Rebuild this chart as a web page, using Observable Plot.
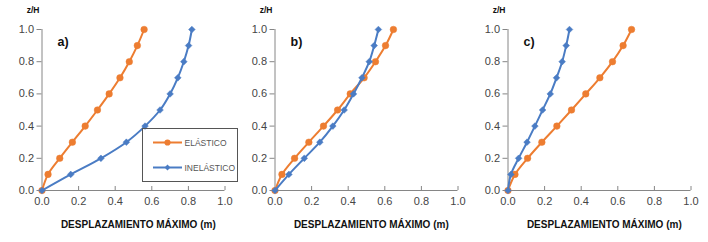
<!DOCTYPE html>
<html>
<head>
<meta charset="utf-8">
<script src="https://cdn.jsdelivr.net/npm/d3@7"></script>
<script src="https://cdn.jsdelivr.net/npm/@observablehq/plot@0.6"></script>
<style>
  html, body { margin: 0; padding: 0; background: #fff; }
  #wrap { position: relative; width: 708px; height: 242px; font-family: "Liberation Sans", Arial, sans-serif; }
  .panel { position: absolute; top: 0; }
  #legend { position: absolute; left: 142px; top: 128px; width: 94px; height: 52px; border: 1px solid #555; background: transparent; }
  #legend svg { position: absolute; left: 0; top: 0; }
</style>
</head>
<body>
<div id="wrap"></div>
<script>
// z/H levels
const zH = [0, 0.1, 0.2, 0.3, 0.4, 0.5, 0.6, 0.7, 0.8, 0.9, 1.0];
// Panel a)
const aElastico   = [0, 0.033, 0.097, 0.166, 0.236, 0.303, 0.367, 0.426, 0.477, 0.521, 0.558];
const aInelastico = [0, 0.157, 0.322, 0.461, 0.563, 0.645, 0.700, 0.742, 0.775, 0.801, 0.819];
// Panel b)
const bElastico   = [0, 0.038, 0.107, 0.185, 0.265, 0.342, 0.411, 0.487, 0.549, 0.604, 0.647];
const bInelastico = [0, 0.076, 0.160, 0.245, 0.316, 0.378, 0.429, 0.475, 0.515, 0.542, 0.565];
// Panel c)
const cElastico   = [0, 0.038, 0.107, 0.185, 0.267, 0.347, 0.425, 0.502, 0.571, 0.629, 0.675];
const cInelastico = [0, 0.016, 0.058, 0.104, 0.147, 0.189, 0.231, 0.265, 0.296, 0.318, 0.336];

const panelLabels = ["a)", "b)", "c)"];
const seriesNames = ["ELÁSTICO", "INELÁSTICO"];
const xTicks = [0, 0.2, 0.4, 0.6, 0.8, 1.0];
const yTicks = [0, 0.2, 0.4, 0.6, 0.8, 1.0];
const xTitle = "DESPLAZAMIENTO MÁXIMO (m)";
const yTitle = "z/H";

const ORANGE = "#ED7D31";
const BLUE = "#4A7CC4";
const AXIS = "#868686";
const TEXT = "#454545";

const panels = [
  {label: panelLabels[0], el: aElastico, inel: aInelastico},
  {label: panelLabels[1], el: bElastico, inel: bInelastico},
  {label: panelLabels[2], el: cElastico, inel: cInelastico}
];
const lefts = [0, 233, 466];

const wrap = document.getElementById("wrap");

panels.forEach((p, i) => {
  const el = zH.map((z, k) => ({x: p.el[k], z}));
  const inel = zH.map((z, k) => ({x: p.inel[k], z}));
  const chart = Plot.plot({
    width: 236,
    height: 242,
    marginLeft: 41.5,
    marginRight: 11.5,
    marginTop: 29,
    marginBottom: 52,
    style: {background: "transparent", fontFamily: "Liberation Sans, Arial, sans-serif"},
    x: {domain: [0, 1], ticks: xTicks},
    y: {domain: [0, 1], ticks: yTicks},
    marks: [
      Plot.axisX(xTicks, {tickSize: 0, tickPadding: 7, tickFormat: d3.format(".1f"), fontSize: 11, color: TEXT, label: null}),
      Plot.axisY(yTicks, {tickSize: 5, tickPadding: 3, tickFormat: d3.format(".1f"), fontSize: 11, color: TEXT, stroke: AXIS, label: null}),
      Plot.tickX(xTicks.slice(1), {x: d => d, insetTop: 157, stroke: AXIS}),
      Plot.ruleY([0], {stroke: AXIS}),
      Plot.ruleX([0], {stroke: AXIS}),
      Plot.line(el, {x: "x", y: "z", stroke: ORANGE, strokeWidth: 2, curve: "catmull-rom"}),
      Plot.dot(el, {x: "x", y: "z", fill: ORANGE, stroke: ORANGE, strokeWidth: 0.5, r: 3.3, symbol: "circle"}),
      Plot.line(inel, {x: "x", y: "z", stroke: BLUE, strokeWidth: 2, curve: "catmull-rom"}),
      Plot.dot(inel, {x: "x", y: "z", fill: BLUE, stroke: BLUE, strokeWidth: 0.5, r: 3, symbol: "diamond2"}),
      Plot.text([p.label], {frameAnchor: "top-left", dx: 15.5, dy: 8, text: d => d, fontSize: 12.5, fontWeight: "bold", fill: "#111", textAnchor: "start"}),
      Plot.text([yTitle], {frameAnchor: "top-left", dx: -9, dy: -23, text: d => d, fontSize: 8.5, fontWeight: "bold", fill: "#111", textAnchor: "middle"}),
      Plot.text([xTitle], {frameAnchor: "bottom", dx: 4.8, dy: 37, text: d => d, fontSize: 10, fontWeight: "bold", fill: "#111", textAnchor: "middle", ariaLabel: "xtitle"})
    ]
  });
  d3.select(chart).selectAll('g[aria-label="xtitle"] text').attr("letter-spacing", "0.2px");
  const div = document.createElement("div");
  div.className = "panel";
  div.style.left = lefts[i] + "px";
  div.appendChild(chart);
  wrap.appendChild(div);
});

// Legend (panel a)
const legend = document.createElement("div");
legend.id = "legend";
const ls = d3.create("svg").attr("width", 94).attr("height", 52);
const rows = [{name: seriesNames[0], color: ORANGE, sym: d3.symbolCircle, size: 30, y: 13.5},
              {name: seriesNames[1], color: BLUE, sym: d3.symbolDiamond2, size: 22, y: 38.5}];
rows.forEach(r => {
  ls.append("line").attr("x1", 10).attr("x2", 39).attr("y1", r.y).attr("y2", r.y).attr("stroke", r.color).attr("stroke-width", 2);
  ls.append("path").attr("d", d3.symbol(r.sym, r.size)()).attr("transform", `translate(24.5,${r.y})`).attr("fill", r.color);
  ls.append("text").attr("x", 41.5).attr("y", r.y + 3.2).attr("font-size", 8.5).attr("fill", "#555").attr("font-family", "Liberation Sans, Arial, sans-serif").text(r.name);
});
legend.appendChild(ls.node());
wrap.appendChild(legend);
</script>
</body>
</html>
